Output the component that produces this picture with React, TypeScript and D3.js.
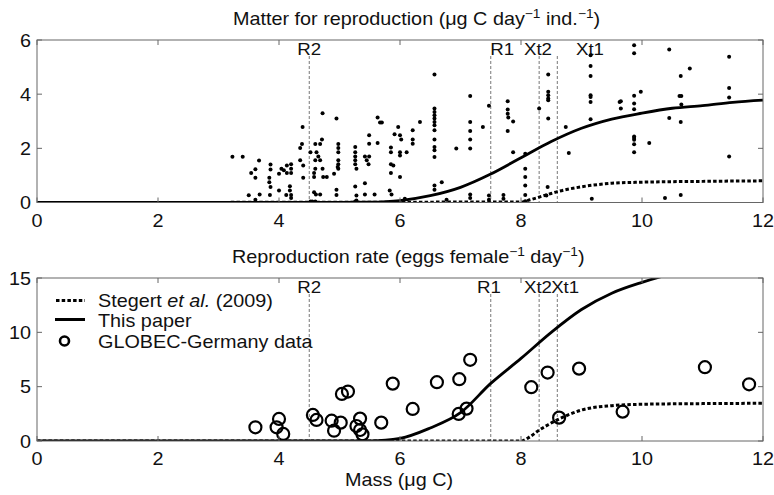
import React from "react";
import * as d3 from "d3";

// ---------- data ----------
const massTicks = [0, 2, 4, 6, 8, 10, 12];
const matterTicks = [0, 2, 4, 6];
const rateTicks = [0, 5, 10, 15];

const thresholdNames = ["R2", "R1", "Xt2", "Xt1"];
const thresholdMass = [4.5, 7.5, 8.3, 8.6];
const topLabelMass = [4.5, 7.69, 8.28, 9.14];
const bottomLabelMass = [4.5, 7.47, 8.28, 8.73];

const modelMass = [0, 1, 2, 3, 4, 5, 5.5, 6, 6.5, 7, 7.5, 8, 8.5, 9, 9.5, 10, 10.5, 11, 11.5, 12];
const matterModel = [0, 0, 0, 0, 0, 0, 0.01, 0.07, 0.25, 0.56, 1.05, 1.65, 2.25, 2.74, 3.08, 3.3, 3.48, 3.58, 3.7, 3.78];
const rateModel = [0, 0, 0, 0, 0, 0, 0.02, 0.25, 1.2, 2.6, 5.3, 7.6, 10.0, 12.1, 13.6, 14.6, 15.4, 16.0, 16.4, 16.7];

const stegertMass = [0, 8.0, 8.15, 8.3, 8.45, 8.6, 8.8, 9.0, 9.5, 10, 11, 12];
const matterStegert = [0, 0.02, 0.1, 0.2, 0.3, 0.4, 0.5, 0.58, 0.71, 0.75, 0.78, 0.8];
const rateStegert = [0, 0, 0.4, 1.0, 1.5, 1.95, 2.45, 2.85, 3.25, 3.38, 3.44, 3.47];

const dotMass = [
  3.23, 3.4, 3.67, 3.54, 3.61, 3.61, 3.5, 3.68, 3.61,
  3.86, 3.86, 3.84, 3.84, 3.86, 3.85,
  4.0, 4.04, 4.08, 4.13, 4.13, 4.2, 4.2, 4.2,
  4.0, 4.12, 4.18, 4.18, 4.2, 4.2,
  4.39, 4.35, 4.38, 4.35, 4.4, 4.4,
  4.52, 4.72, 4.6, 4.68, 4.71,
  4.62, 4.65, 4.68, 4.6,
  4.6, 4.58, 4.58, 4.72,
  4.73, 4.79,
  4.58, 4.61, 4.68,
  4.95,
  4.98, 4.98, 4.98, 4.98, 4.98, 4.98, 4.97,
  4.91, 4.95, 4.95,
  5.26, 5.26, 5.26, 5.26, 5.26, 5.28,
  5.26, 5.28, 5.28,
  5.42, 5.45, 5.49, 5.48,
  5.49, 5.49,
  5.42, 5.42, 5.58,
  5.63, 5.67, 5.7, 5.63,
  5.85, 5.85, 5.85, 5.89, 5.85,
  5.83, 5.86,
  6.0,
  5.97, 6.0, 6.02, 5.91,
  6.0, 6.0, 6.11,
  6.21, 6.21, 6.21, 6.33,
  6.08,
  6.57,
  6.57, 6.57, 6.57, 6.57, 6.57, 6.57, 6.57,
  6.57, 6.57, 6.57, 6.57,
  6.57, 6.57, 6.69,
  6.93,
  7.16, 7.16, 7.16, 7.16, 7.16, 7.16, 7.16,
  6.77,
  7.37, 7.47, 7.47, 7.71, 7.71,
  7.78, 7.78, 7.78, 7.79, 7.87, 7.78,
  7.87, 8.07, 8.07, 8.07, 8.07, 8.07,
  8.3, 8.45, 8.45, 8.45, 8.45, 8.45, 8.45,
  8.44, 8.42,
  8.74, 8.79,
  9.15, 9.15, 9.15, 9.15, 9.15, 9.15, 9.15,
  9.17, 9.63,
  9.87, 9.87, 10.45, 11.44, 10.79, 10.64,
  9.98, 9.87, 9.87, 9.87, 9.65, 9.65,
  10.62, 10.65, 10.65, 11.44, 11.44,
  10.45, 10.64,
  9.87, 9.87, 9.87, 9.87, 9.87, 10.12, 11.44,
  10.38, 10.64,
  4.52, 4.55, 4.6, 5.26, 7.47, 8.07,
];
const dotMatter = [
  1.69, 1.69, 1.55, 1.09, 1.23, 0.91, 0.27, 0.3, 0.1,
  1.4, 1.22, 0.91, 0.75, 0.57, 0.28,
  1.06, 1.25, 1.19, 1.37, 1.09, 1.41, 1.25, 1.09,
  0.44, 0.28, 0.6, 0.44, 0.28, 0.17,
  2.79, 2.01, 2.16, 1.56, 1.37, 0.91,
  1.86, 3.3, 2.16, 2.16, 2.33,
  1.86, 1.7, 1.56, 1.56,
  1.25, 1.09, 0.94, 1.25,
  0.94, 0.94,
  0.38, 0.3, 0.3,
  3.1,
  2.16, 2.01, 1.86, 1.56, 1.41, 1.25, 1.31,
  1.06, 0.47, 0.28,
  2.05, 1.86, 1.7, 1.56, 1.41, 1.25,
  0.59, 0.26, 0.07,
  1.7, 1.56, 1.7, 1.41,
  2.48, 2.17,
  0.71, 0.3, 0.3,
  3.14, 2.95, 2.95, 2.2,
  2.03, 1.86, 1.41, 1.37, 1.09,
  0.44, 0.3,
  0.94,
  2.79, 2.48, 2.33, 2.52,
  1.86, 1.74, 1.86,
  2.67, 2.33, 2.17, 2.97,
  0.14,
  4.73,
  3.47, 3.34, 3.22, 3.1, 2.97, 2.85, 2.67,
  2.33, 2.05, 1.93, 1.68,
  0.63, 0.47, 0.75,
  1.99,
  3.93, 2.97, 2.64, 2.33, 1.99, 0.3, 0.17,
  0.1,
  2.79, 3.57, 0.26, 0.28, 0.14,
  3.74, 3.43, 3.28, 3.14, 2.99, 2.64,
  1.86, 1.8, 1.25, 0.94, 0.63, 0.28,
  3.47, 4.73, 4.09, 3.96, 3.84, 3.78, 3.1,
  0.57, 0.26,
  2.79, 1.83,
  5.44, 5.04, 4.67, 3.96, 3.9, 3.71, 3.07,
  0.14, 3.71,
  5.81, 5.51, 5.65, 5.38, 4.95, 4.67,
  4.09, 3.94, 3.66, 3.44, 3.74, 3.47,
  3.93, 3.93, 3.62, 4.23, 3.88,
  3.12, 2.97,
  2.44, 2.38, 2.32, 2.15, 1.86, 2.2, 1.7,
  0.17, 0.28,
  0.04, 0.04, 0.04, 0.04, 0.1, 0.05,
];

const globecMass = [3.61, 4.0, 3.96, 4.07, 4.56, 4.62, 4.87, 5.02, 4.91, 5.04, 5.14, 5.34, 5.28, 5.34, 5.38, 5.69, 5.88, 6.21, 6.61, 6.98, 7.16, 6.97, 7.1, 8.17, 8.44, 8.96, 8.63, 9.68, 11.04, 11.77];
const globecRate = [1.26, 2.03, 1.26, 0.65, 2.4, 1.94, 1.87, 1.69, 0.95, 4.33, 4.55, 2.06, 1.38, 1.01, 0.61, 1.69, 5.28, 2.95, 5.41, 5.69, 7.47, 2.49, 2.98, 4.95, 6.3, 6.66, 2.15, 2.7, 6.79, 5.22];

// ---------- layout ----------
const W = 774;
const H = 495;
const SX = 1.1;
const FONT = "'Liberation Sans', Arial, Helvetica, sans-serif";
const FRAME = "#666";

const x = d3.scaleLinear().domain([0, 12]).range([37, 763]);
const yTop = d3.scaleLinear().domain([0, 6]).range([202.5, 40]);
const yBot = d3.scaleLinear().domain([0, 15]).range([441, 278]);

function T({ x, y, anchor = "start", size = 18, children, style }: any) {
  return (
    <text
      transform={`translate(${x},${y}) scale(${SX},1)`}
      textAnchor={anchor}
      fontSize={size}
      fontFamily={FONT}
      fill="#111"
      style={style}
    >
      {children}
    </text>
  );
}

function Panel({ y, yTicks, labelMass, id, children }: any) {
  const [y0, y1] = y.range();
  const left = x.range()[0];
  const right = x.range()[1];
  return (
    <g>
      <defs>
        <clipPath id={id}>
          <rect x={left} y={y1} width={right - left} height={y0 - y1} />
        </clipPath>
      </defs>
      {thresholdMass.map((m, i) => (
        <line
          key={"th" + i}
          x1={x(m)}
          x2={x(m)}
          y1={y1 + 16}
          y2={y0}
          stroke="#777"
          strokeWidth={1}
          strokeDasharray="3,2"
        />
      ))}
      {thresholdNames.map((n, i) => (
        <T key={"tl" + i} x={x(labelMass[i])} y={y1 + 15} anchor="middle" size={17}>
          {n}
        </T>
      ))}
      <g clipPath={`url(#${id})`}>{children}</g>
      <rect x={left} y={y1} width={right - left} height={y0 - y1} fill="none" stroke={FRAME} strokeWidth={1} />
      {massTicks.map((t) => (
        <g key={"xt" + t}>
          <line x1={x(t)} x2={x(t)} y1={y0} y2={y0 - 5} stroke={FRAME} />
          <line x1={x(t)} x2={x(t)} y1={y1} y2={y1 + 5} stroke={FRAME} />
          <T x={x(t)} y={y0 + 24} anchor="middle">
            {t}
          </T>
        </g>
      ))}
      {yTicks.map((t: number) => (
        <g key={"yt" + t}>
          <line x1={left} x2={left + 5} y1={y(t)} y2={y(t)} stroke={FRAME} />
          <line x1={right} x2={right - 5} y1={y(t)} y2={y(t)} stroke={FRAME} />
          <T x={31} y={y(t) + 6.5} anchor="end">
            {t}
          </T>
        </g>
      ))}
    </g>
  );
}

export default function App() {
  const lineTop = d3
    .line<number>()
    .x((_, i) => x(modelMass[i]))
    .y((v) => yTop(v))
    .curve(d3.curveMonotoneX);
  const lineTopSt = d3
    .line<number>()
    .x((_, i) => x(stegertMass[i]))
    .y((v) => yTop(v))
    .curve(d3.curveMonotoneX);
  const lineBot = d3
    .line<number>()
    .x((_, i) => x(modelMass[i]))
    .y((v) => yBot(v))
    .curve(d3.curveMonotoneX);
  const lineBotSt = d3
    .line<number>()
    .x((_, i) => x(stegertMass[i]))
    .y((v) => yBot(v))
    .curve(d3.curveMonotoneX);

  const sup = (s: string) => (
    <tspan dy={-7} fontSize={12.5}>
      {s}
    </tspan>
  );

  return (
    <svg width={W} height={H} style={{ position: "absolute", left: 0, top: 0, background: "#fff" }}>
      <rect width={W} height={H} fill="#fff" />
      <T x={233} y={25}>
        Matter for reproduction (μg C day{sup("−1")}
        <tspan dy={7}> ind.</tspan>
        {sup("−1")}
        <tspan dy={7}>)</tspan>
      </T>
      <Panel y={yTop} yTicks={matterTicks} labelMass={topLabelMass} id="clipTop">
        {dotMass.map((m, i) => (
          <circle key={"d" + i} cx={x(m)} cy={yTop(dotMatter[i])} r={2} fill="#000" />
        ))}
        <path d={lineTopSt(matterStegert) || ""} fill="none" stroke="#000" strokeWidth={3} strokeDasharray="3.5,2.2" />
        <path d={lineTop(matterModel) || ""} fill="none" stroke="#000" strokeWidth={2.8} />
      </Panel>

      <T x={232} y={263}>
        Reproduction rate (eggs female{sup("−1")}
        <tspan dy={7}> day</tspan>
        {sup("−1")}
        <tspan dy={7}>)</tspan>
      </T>
      <Panel y={yBot} yTicks={rateTicks} labelMass={bottomLabelMass} id="clipBot">
        <path d={lineBotSt(rateStegert) || ""} fill="none" stroke="#000" strokeWidth={3} strokeDasharray="3.5,2.2" />
        <path d={lineBot(rateModel) || ""} fill="none" stroke="#000" strokeWidth={2.8} />
        {globecMass.map((m, i) => (
          <circle key={"c" + i} cx={x(m)} cy={yBot(globecRate[i])} r={6} fill="none" stroke="#000" strokeWidth={2.2} />
        ))}
      </Panel>

      <line x1={56} x2={85} y1={300.5} y2={300.5} stroke="#000" strokeWidth={3} strokeDasharray="3.5,2.2" />
      <T x={98} y={306.5}>
        Stegert <tspan fontStyle="italic">et al.</tspan> (2009)
      </T>
      <line x1={55} x2={85} y1={319.5} y2={319.5} stroke="#000" strokeWidth={3} />
      <T x={98} y={327}>This paper</T>
      <circle cx={64.5} cy={341} r={4.5} fill="none" stroke="#000" strokeWidth={2.6} />
      <T x={98} y={347.5}>GLOBEC-Germany data</T>

      <T x={345} y={486}>Mass (μg C)</T>
    </svg>
  );
}
